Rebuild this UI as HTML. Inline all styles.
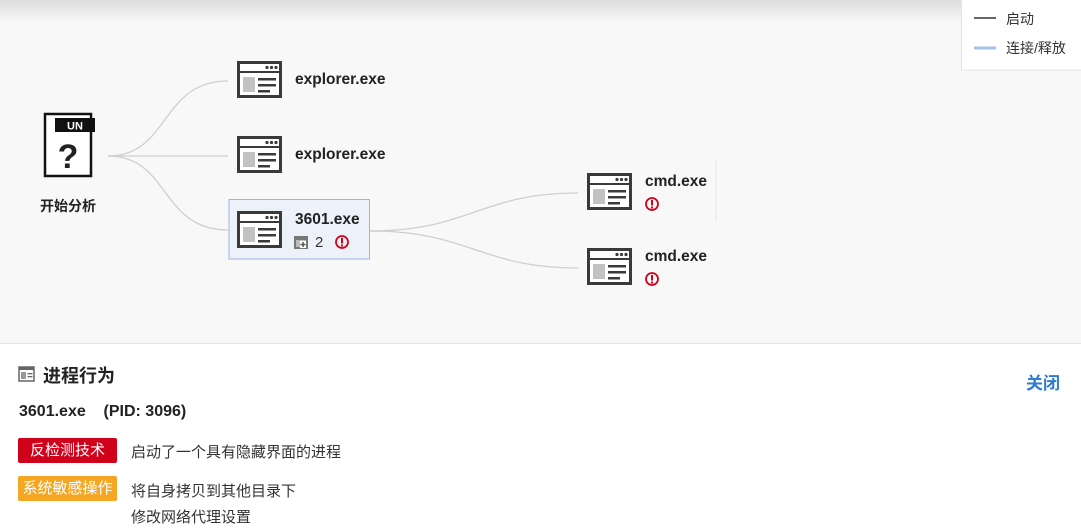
<!DOCTYPE html>
<html><head><meta charset="utf-8"><style>
html,body{margin:0;padding:0;width:1081px;height:528px;overflow:hidden;background:#fff;font-family:"Liberation Sans","Noto Sans CJK SC",sans-serif;}
.canvas{position:absolute;left:0;top:0;width:1081px;height:343px;background:#f8f8f8;border-bottom:1px solid #e3e3e3;}
.shade{position:absolute;left:0;top:0;width:1081px;height:22px;background:linear-gradient(#dcdcdc,#f8f8f8);}
.t{position:absolute;white-space:nowrap;}
.b{font-weight:bold;color:#222;font-size:15.5px;}
.tag{position:absolute;left:18px;width:99px;text-align:center;height:25px;line-height:25px;color:#fff;font-size:15px;border-radius:2px;}
.txt{font-size:15px;color:#333;}
</style></head><body>
<div class="canvas"><div class="shade"></div></div>
<svg width="1081" height="528" style="position:absolute;left:0;top:0">
<defs>
<g id="win">
<rect x="1.5" y="1.5" width="42" height="34" fill="#fff" stroke="#3a3a3a" stroke-width="3"/>
<line x1="1.5" y1="11" x2="43.5" y2="11" stroke="#3a3a3a" stroke-width="2"/>
<circle cx="30" cy="6.5" r="1.6" fill="#3a3a3a"/><circle cx="34.5" cy="6.5" r="1.6" fill="#3a3a3a"/><circle cx="39" cy="6.5" r="1.6" fill="#3a3a3a"/>
<rect x="6" y="16" width="12" height="15" fill="#c2c2c2"/>
<rect x="21" y="17" width="18" height="2.5" fill="#3a3a3a"/>
<rect x="21" y="23" width="18" height="2.5" fill="#3a3a3a"/>
<rect x="21" y="29" width="12" height="2.5" fill="#3a3a3a"/>
</g>
<g id="warn"><circle cx="7" cy="7" r="6" fill="none" stroke="#d0021b" stroke-width="1.8"/><rect x="6" y="3" width="2" height="5.5" fill="#d0021b"/><rect x="6" y="9.5" width="2" height="2" fill="#d0021b"/></g>
</defs>
<g fill="none" stroke="#cfcfcf" stroke-width="1.3">
<path d="M108 156 C170 156 160 81 228 81"/>
<path d="M108 156 L228 156"/>
<path d="M108 156 C170 156 160 230 228 230"/>
<path d="M370 231 C470 231 480 193 578 193"/>
<path d="M370 231 C470 231 480 268 578 268"/>
</g>
<line x1="716" y1="160" x2="716" y2="222" stroke="#e6e6f0" stroke-width="1"/>
<path d="M45 114 L91 114 L91 176 L45 176 Z" fill="#fff" stroke="#111" stroke-width="2.5"/>
<rect x="55" y="118" width="40" height="14" fill="#111"/>
<text x="75" y="129.5" font-size="11" font-weight="bold" fill="#fff" text-anchor="middle" font-family="Liberation Sans,sans-serif">UN</text>
<text x="68" y="168" font-size="34" font-weight="bold" fill="#222" text-anchor="middle" font-family="Liberation Sans,sans-serif">?</text>
<rect x="229" y="199.5" width="140.5" height="59.5" fill="#edf2fa" stroke="#9ab7dd" stroke-width="1"/>
<use href="#win" x="237" y="61"/>
<use href="#win" x="237" y="136"/>
<use href="#win" x="237" y="211"/>
<use href="#win" x="587" y="173"/>
<use href="#win" x="587" y="248"/>
<use href="#warn" x="335" y="235"/>
<use href="#warn" x="645" y="197"/>
<use href="#warn" x="645" y="272"/>
<rect x="294" y="236" width="14" height="13" fill="#777"/>
<rect x="296" y="240" width="10" height="7" fill="#bbb"/>
<rect x="300" y="241" width="6" height="7" fill="#fff"/>
<rect x="302.3" y="242" width="1.5" height="5" fill="#555"/><rect x="300.5" y="243.8" width="5" height="1.5" fill="#555"/>
<rect x="961.5" y="-1" width="121" height="71" fill="#fff" stroke="#e3e3e3"/>
<line x1="974" y1="18" x2="996" y2="18" stroke="#666" stroke-width="2"/>
<line x1="974" y1="48" x2="996" y2="48" stroke="#a5c2e8" stroke-width="3"/>
<rect x="19" y="367" width="15" height="14" fill="#fff" stroke="#666" stroke-width="1.5"/>
<rect x="19" y="367" width="15" height="3" fill="#666"/>
<rect x="21" y="372" width="5" height="7" fill="#999"/>
<rect x="27.5" y="373" width="5" height="1.3" fill="#666"/><rect x="27.5" y="376" width="5" height="1.3" fill="#666"/>
</svg>
<div class="t" style="left:1006px;top:9px;font-size:14px;color:#333">启动</div>
<div class="t" style="left:1006px;top:38px;font-size:14px;color:#333">连接/释放</div>
<div class="t" style="left:40px;top:196px;font-size:14px;color:#222;font-weight:bold">开始分析</div>
<div class="t b" style="left:295px;top:71px">explorer.exe</div>
<div class="t b" style="left:295px;top:146px">explorer.exe</div>
<div class="t b" style="left:295px;top:211px">3601.exe</div>
<div class="t" style="left:315px;top:234px;font-size:15px;color:#333">2</div>
<div class="t b" style="left:645px;top:173px">cmd.exe</div>
<div class="t b" style="left:645px;top:248px">cmd.exe</div>
<div class="t" style="left:43px;top:362px;font-size:18px;font-weight:bold;color:#222">进程行为</div>
<div class="t" style="left:1026px;top:369px;font-size:17px;font-weight:bold;color:#2f7bd1">关闭</div>
<div class="t" style="left:19px;top:403px;font-size:16px;font-weight:bold;color:#222">3601.exe&nbsp;&nbsp;&nbsp;&nbsp;(PID: 3096)</div>
<div class="tag" style="top:438px;background:#d0021b">反检测技术</div>
<div class="t txt" style="left:131px;top:441px">启动了一个具有隐藏界面的进程</div>
<div class="tag" style="top:476px;background:#f5a623">系统敏感操作</div>
<div class="t txt" style="left:131px;top:480px">将自身拷贝到其他目录下</div>
<div class="t txt" style="left:131px;top:506px">修改网络代理设置</div>
</body></html>
